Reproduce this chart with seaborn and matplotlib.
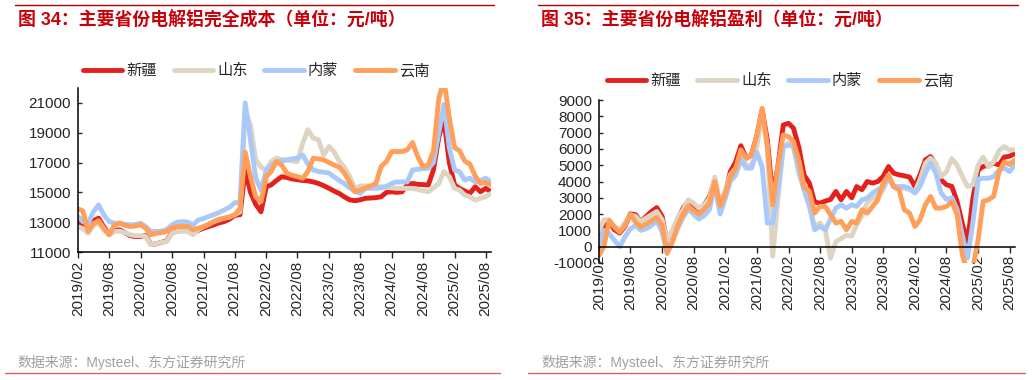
import pandas as pd
import seaborn as sns
import matplotlib.pyplot as plt
from matplotlib.dates import DateFormatter, MonthLocator
from matplotlib.lines import Line2D

sns.set_style("ticks")
plt.rcParams['font.family'] = ['Liberation Sans', 'Noto Sans CJK SC']
plt.rcParams['axes.unicode_minus'] = False

months = pd.date_range("2019-02-01", periods=80, freq="MS")
provinces = ["新疆", "山东", "内蒙", "云南"]
palette = dict(zip(provinces, ["#e3201b", "#ddd5c2", "#a9c9fb", "#ff9f5a"]))

# 完全成本 (元/吨), monthly 2019/02 - 2025/09
cost_xj = [13000, 12800, 12400, 13100, 13270, 12700, 12160, 12450, 12490, 12300,
           12100, 12040, 12040, 12100, 11500, 11550, 11650, 11750, 12300, 12400,
           12450, 12490, 12270, 12450, 12600, 12700, 12820, 12950, 13040, 13200,
           13450, 13500, 16500, 15000, 14200, 13700, 15380, 15500, 15800, 16050,
           16000, 15900, 15850, 15800, 15770, 15700, 15600, 15450, 15270, 15100,
           14930, 14700, 14500, 14440, 14500, 14600, 14620, 14650, 14700, 15000,
           15040, 15000, 15040, 15500, 15600, 15540, 15520, 15500, 16500, 18700,
           19880, 17000, 15500, 15270, 15100, 14930, 15380, 15040, 15270, 15040]
cost_sd = [12690, 12580, 12250, 12800, 12930, 12500, 12160, 12380, 12400, 12300,
           12160, 12100, 12100, 12040, 11490, 11550, 11650, 11710, 12270, 12380,
           12400, 12380, 12160, 12500, 12700, 12850, 13040, 13150, 13270, 13350,
           13500, 13700, 20500, 19500, 17200, 16700, 16500, 17070, 17300, 17200,
           17180, 17100, 17070, 18300, 19200, 18640, 18530, 17500, 18080, 17740,
           17100, 16700, 16060, 15270, 15430, 15430, 15430, 15400, 15380, 15340,
           15300, 15270, 15270, 15270, 15270, 15200, 15100, 15040, 15300, 15600,
           16400, 16060, 15270, 15160, 14820, 14700, 14480, 14600, 14700, 14930]
cost_nm = [13380, 13040, 12900, 13700, 14160, 13500, 13040, 12930, 12950, 12850,
           12820, 12850, 12930, 12700, 12380, 12380, 12400, 12500, 12820, 13000,
           13040, 13000, 12820, 13150, 13250, 13380, 13500, 13650, 13820, 14000,
           14300, 14350, 21000, 18500, 16000, 15150, 16500, 16800, 17070, 17100,
           17180, 17250, 17300, 17500, 16900, 16500, 16400, 16350, 16300, 16050,
           15800, 15600, 15300, 15100, 14930, 15270, 15270, 15270, 15300, 15400,
           15600, 15700, 15700, 15700, 16500, 16550, 16600, 16600, 17000, 19000,
           20900, 18000, 16500, 16400, 15830, 15950, 15700, 15800, 15950, 15700]
cost_yn = [13890, 13760, 12400, 12900, 13100, 12600, 12160, 12800, 12930, 12800,
           12710, 12750, 12820, 12600, 12160, 12250, 12300, 12380, 12650, 12710,
           12710, 12710, 12490, 12600, 12710, 12850, 13040, 13200, 13270, 13350,
           13500, 13900, 17700, 16060, 14700, 14370, 16060, 16400, 17070, 16840,
           16280, 16150, 16060, 15940, 16400, 17290, 17250, 17180, 17000, 16840,
           16700, 16300, 15700, 15040, 15160, 15300, 15430, 15600, 16730, 17070,
           17740, 17740, 17740, 17850, 18350, 17400, 16730, 16840, 17800, 21300,
           22600, 20000, 18000, 17800, 17100, 16900, 16100, 15600, 15650, 15500]

# 盈利 (元/吨)
prof_xj = [630, 1040, 1550, 1040, 840, 1240, 2020, 1960, 1550, 1860,
           2160, 2400, 1860, 220, 630, 1650, 2370, 2780, 2470, 2270,
           2570, 3080, 4100, 2470, 3290, 4610, 5200, 6200, 5430, 5630,
           6800, 8400, 6550, 3080, 4920, 7470, 7570, 7270, 6100, 4400,
           3900, 2750, 2670, 2800, 2900, 3390, 2880, 3390, 3000, 3690,
           3500, 4000, 3900, 4000, 4310, 4920, 4510, 4410, 4350, 4270,
           3690, 4410, 5330, 5530, 5020, 4100, 3800, 3700, 2800, 1400,
           300, 3000, 4710, 4920, 5000, 5120, 5020, 5500, 5550, 5730]
prof_sd = [940, 1650, 1650, 1240, 1040, 1450, 1960, 1860, 1550, 1760,
           1960, 2160, 1650, 330, 1040, 1760, 2270, 2880, 2670, 2370,
           2570, 2980, 4270, 2670, 3490, 4410, 4820, 5500, 5020, 4920,
           6140, 8080, 6140, -590, 2880, 6140, 6350, 6140, 4510, 3490,
           2500, 1240, 1450, 1000, -700, 300, 500, 700, 650, 1350,
           1900, 2700, 3000, 3100, 3490, 4310, 3690, 3590, 3590, 3490,
           3390, 4100, 5120, 5430, 5120, 4300, 4600, 5400, 5020, 4310,
           3690, 3800, 5020, 5500, 4900, 5200, 5900, 6140, 5940, 5940]
prof_nm = [100, 1000, 800, 400, 0, 600, 1100, 1300, 1000, 1100,
           1300, 1600, 900, -400, 400, 1100, 1800, 2300, 2000, 1700,
           1900, 2300, 3800, 2000, 3000, 4000, 4400, 5330, 4820, 4820,
           5800, 4900, 1450, 1450, 3490, 6140, 6240, 6140, 4710, 3490,
           2500, 1040, 1240, 1040, 1700, 2370, 2570, 2370, 2570, 2470,
           2880, 2980, 3290, 3490, 3690, 4200, 3690, 3690, 3690, 3590,
           3290, 3690, 4510, 5120, 4510, 3300, 2900, 3000, 2300, 700,
           -700, 1500, 4150, 4200, 4200, 4310, 4710, 4820, 4610, 5020]
prof_yn = [-550, 0, 1600, 1200, 900, 1300, 2000, 1500, 1200, 1400,
           1600, 1800, 1300, -400, 300, 1300, 2000, 2500, 2200, 2000,
           2300, 2700, 4000, 2500, 3300, 4300, 4800, 5940, 5430, 5630,
           6800, 8490, 6140, 2570, 4920, 6860, 6750, 6450, 5330, 3690,
           3400, 2060, 2470, 2470, 1960, 1450, 1550, 1040, 1550, 1450,
           2270, 2060, 2470, 2880, 3900, 4410, 3690, 3490, 2270, 2060,
           1240, 1650, 2570, 3080, 2370, 2370, 2470, 2750, 2000, -500,
           -1600, -1300, 500, 2780, 2880, 3100, 4600, 5200, 5050, 5330]


def to_long(series):
    frames = []
    for name, values in zip(provinces, series):
        frames.append(pd.DataFrame({"month": months, "value": values, "province": name}))
    return pd.concat(frames, ignore_index=True)


def draw_panel(ax, df, ylim, yticks, legend_anchor):
    sns.lineplot(data=df, x="month", y="value", hue="province", hue_order=provinces,
                 palette=palette, linewidth=3.5, solid_joinstyle="round",
                 solid_capstyle="round", ax=ax)
    ax.set_xlim(months[0], months[-1])
    ax.set_ylim(*ylim)
    ax.set_yticks(yticks)
    ax.set_xlabel("")
    ax.set_ylabel("")
    ax.xaxis.set_major_locator(MonthLocator(bymonth=[2, 8]))
    ax.xaxis.set_major_formatter(DateFormatter("%Y/%m"))
    ax.tick_params(axis="x", direction="out", length=4, width=1, labelsize=11,
                   labelrotation=90, pad=2)
    ax.tick_params(axis="y", direction="in", length=3, width=1, labelsize=11, pad=5)
    for side in ["top", "right"]:
        ax.spines[side].set_visible(False)
    for side in ["left", "bottom"]:
        ax.spines[side].set_color("black")
        ax.spines[side].set_linewidth(1.1)
    sns.move_legend(ax, "center", bbox_to_anchor=legend_anchor, ncol=4, frameon=False,
                    title=None, fontsize=11, handlelength=2.6, handletextpad=0.25,
                    columnspacing=1.1)


fig = plt.figure(figsize=(10.32, 3.8), dpi=100)
ax1 = fig.add_axes([0.0756, 0.3368, 0.4002, 0.4316])
ax2 = fig.add_axes([0.5804, 0.3079, 0.4031, 0.4289])

draw_panel(ax1, to_long([cost_xj, cost_sd, cost_nm, cost_yn]),
           (11000, 22000), range(11000, 22000, 2000), (0.431, 1.104))
draw_panel(ax2, to_long([prof_xj, prof_sd, prof_nm, prof_yn]),
           (-1000, 9000), range(-1000, 9001, 1000), (0.435, 1.117))
ax2.spines["bottom"].set_position(("data", 0))

# header / footer decorations
title_color = "#c8000a"
fig.add_artist(Line2D([15 / 1032, 494 / 1032], [1 - 5 / 380] * 2, color="#b00000", lw=1))
fig.add_artist(Line2D([538 / 1032, 1018 / 1032], [1 - 5 / 380] * 2, color="#b00000", lw=1))
fig.add_artist(Line2D([5 / 1032, 500 / 1032], [1 - 373 / 380] * 2, color="#e06060", lw=1))
fig.add_artist(Line2D([528 / 1032, 1025 / 1032], [1 - 373 / 380] * 2, color="#e06060", lw=1))

fig.text(18 / 1032, 1 - 21 / 380, "图 34：主要省份电解铝完全成本（单位：元/吨）",
         color=title_color, fontsize=12.9, fontweight="bold", va="center", ha="left")
fig.text(541 / 1032, 1 - 21 / 380, "图 35：主要省份电解铝盈利（单位：元/吨）",
         color=title_color, fontsize=12.9, fontweight="bold", va="center", ha="left")
fig.text(17 / 1032, 1 - 363 / 380, "数据来源：Mysteel、东方证券研究所",
         color="#a0a0a0", fontsize=10, va="center", ha="left")
fig.text(541 / 1032, 1 - 363 / 380, "数据来源：Mysteel、东方证券研究所",
         color="#a0a0a0", fontsize=10, va="center", ha="left")

fig.savefig("out.png", dpi=100)
